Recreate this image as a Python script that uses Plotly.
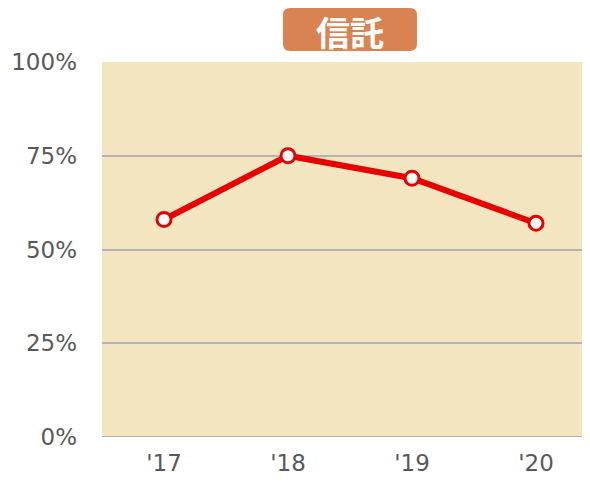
import plotly.graph_objects as go

categories = ["'17", "'18", "'19", "'20"]
values = [58, 75, 69, 57]
y_ticks = [0, 25, 50, 75, 100]
y_tick_labels = ["0%", "25%", "50%", "75%", "100%"]
title_text = "信託"

OFF = 8  # page body margin
W, H = 590 - OFF, 483 - OFF
ML, MR, MT, MB = 102 - OFF, 0, 62 - OFF, 483 - 437
pw = W - ML - MR
ph = H - MT - MB

def px_to_paper(x, y):
    # x, y in page pixel coordinates
    return (x - OFF - ML) / pw, 1 - (y - OFF - MT) / ph

# rounded rectangle for the title box (page coords)
x0, x1, y0, y1, r = 283, 417, 8, 51, 7
def P(x, y):
    a, b = px_to_paper(x, y)
    return f"{a:.5f},{b:.5f}"
path = (f"M {P(x0 + r, y0)} L {P(x1 - r, y0)} Q {P(x1, y0)} {P(x1, y0 + r)} "
        f"L {P(x1, y1 - r)} Q {P(x1, y1)} {P(x1 - r, y1)} "
        f"L {P(x0 + r, y1)} Q {P(x0, y1)} {P(x0, y1 - r)} "
        f"L {P(x0, y0 + r)} Q {P(x0, y0)} {P(x0 + r, y0)} Z")

fig = go.Figure()
fig.add_trace(go.Scatter(
    x=list(range(len(categories))), y=values, mode="lines+markers",
    line=dict(color="#E60000", width=6),
    marker=dict(size=14, color="white", line=dict(color="#E60000", width=3)),
    hoverinfo="skip", showlegend=False,
))

fig.update_layout(
    width=W, height=H,
    margin=dict(l=ML, r=MR, t=MT, b=MB),
    paper_bgcolor="white",
    plot_bgcolor="#F3E5C0",
    font=dict(family="DejaVu Sans, Verdana, sans-serif", color="#595959", size=23),
    xaxis=dict(
        tickmode="array", tickvals=list(range(len(categories))), ticktext=categories,
        range=[-0.5, -0.5 + pw / 124], showgrid=False, zeroline=False,
        showline=False, ticks="", ticklabelstandoff=10, fixedrange=True,
    ),
    yaxis=dict(
        tickmode="array", tickvals=y_ticks, ticktext=y_tick_labels,
        range=[0, 100], showgrid=True, gridcolor="#B3B3B3", gridwidth=2,
        zeroline=False, showline=False, ticks="", ticklabelstandoff=24,
        fixedrange=True,
    ),
    shapes=[
        dict(type="path", path=path, xref="paper", yref="paper",
             fillcolor="#D98352", line=dict(width=0), layer="above"),
        dict(type="line", xref="paper", yref="y", x0=0, x1=1, y0=0, y1=0,
             line=dict(color="#B3B3B3", width=2), layer="above"),
    ],
    annotations=[
        dict(text=f"<b>{title_text}</b>", xref="paper", yref="paper",
             x=px_to_paper(350, 31)[0], y=px_to_paper(350, 31)[1],
             xanchor="center", yanchor="middle", showarrow=False,
             font=dict(family="Noto Sans CJK JP", size=34, color="white")),
    ],
)

fig.write_html("out.html")
